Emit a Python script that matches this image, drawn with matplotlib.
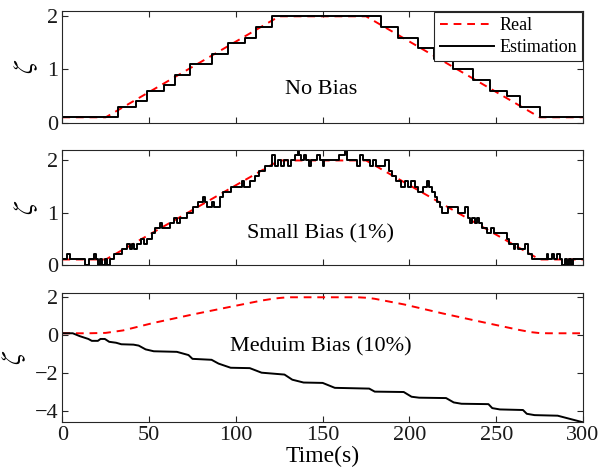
import matplotlib
matplotlib.use("Agg")
import matplotlib.pyplot as plt

# real trajectory (same for the three cases)
real_t = [0, 25, 125, 175, 275, 300]
real_v = [0.1, 0.1, 2.0, 2.0, 0.1, 0.1]

# real trajectory as drawn in the bottom panel (rounded corners)
real3_t = [0, 15, 25, 35, 52.7, 75, 97, 115, 122, 126, 130, 170, 176, 180, 197, 219, 241, 263, 270, 275, 280, 300]
real3_v = [0.1, 0.1, 0.12, 0.25, 0.65, 1.09, 1.5, 1.83, 1.93, 1.97, 2.0, 2.0, 1.97, 1.92, 1.62, 1.15, 0.71, 0.28, 0.16, 0.11, 0.1, 0.1]

# estimation, no bias (step starts)
est1_t = [0, 32.3, 42.5, 48.6, 58.4, 64.9, 73.6, 86.4, 95.6, 105.2, 111.6, 120.6,
          183.4, 193.5, 205, 214, 225.2, 236.7, 246.4, 256, 263.7, 275.2, 300]
est1_v = [0.1, 0.3, 0.4, 0.6, 0.7, 0.9, 1.1, 1.3, 1.5, 1.6, 1.8, 2.0,
          1.8, 1.6, 1.4, 1.2, 1.0, 0.8, 0.6, 0.5, 0.3, 0.1, 0.1]

# estimation, small bias (step starts)
est2_t = [0, 2.5, 4.5, 13, 15.5, 18.3, 19.3, 20.4, 21.7, 23, 24.5, 25.5, 27.3, 29.6,
          34.2, 37.1, 39, 40.2, 41.5, 42.8, 45.5, 47, 48.6, 51.5, 53.4, 56.3, 57.6,
          62, 64.6, 66, 67.8, 71.6, 75.5, 78.3, 81, 82.3, 83.2, 86.5, 87.5, 90.8,
          92.8, 97, 103.3, 104.7, 108.1, 111, 113.5, 117, 121, 122.5, 124, 126,
          128, 130, 132, 134, 135.5, 136.5, 137.5, 139.5, 140.5, 142, 143, 147,
          148.5, 150, 151, 159.5, 162, 163, 164, 170, 171.5, 173, 177, 179, 181,
          186, 188, 190, 192, 195, 197.4, 199.3, 201, 203, 205, 208, 210, 211.5,
          213, 214.7, 216, 217.5, 219, 222, 228, 232, 233.5, 235, 236, 238, 239,
          240, 242, 244.5, 247, 248.5, 256, 257.5, 260, 261, 262.5, 266.6, 268.5,
          270.5, 279, 280, 282, 283.5, 285, 286.5, 288, 289.5, 290.5, 292, 293,
          294.5, 300]
est2_v = [0.1, 0.2, 0.1, 0.0, 0.1, 0.2, 0.1, 0.0, 0.1, 0.0, 0.1, 0.0, 0.1, 0.2,
          0.3, 0.4, 0.3, 0.4, 0.3, 0.4, 0.5, 0.4, 0.5, 0.6, 0.7, 0.8, 0.7,
          0.8, 0.9, 0.8, 0.9, 1.0, 1.1, 1.2, 1.3, 1.2, 1.1, 1.2, 1.1, 1.3,
          1.4, 1.5, 1.6, 1.5, 1.6, 1.7, 1.8, 1.9, 2.1, 1.9, 2.0, 1.9,
          2.0, 1.9, 2.0, 2.1, 2.2, 2.1, 2.0, 2.1, 2.0, 1.9, 2.0, 2.1,
          2.0, 1.9, 2.0, 2.1, 2.1, 2.2, 2.0, 1.9, 2.1, 2.0, 1.9, 2.0, 1.9,
          2.0, 1.8, 1.7, 1.6, 1.5, 1.6, 1.5, 1.6, 1.5, 1.4, 1.5, 1.6, 1.5,
          1.4, 1.3, 1.2, 1.1, 1.0, 1.1, 1.0, 1.1, 0.9, 0.8, 0.9, 0.8, 0.9,
          0.8, 0.7, 0.6, 0.7, 0.6, 0.5, 0.4, 0.3, 0.4, 0.3, 0.4, 0.2,
          0.1, 0.2, 0.1, 0.2, 0.1, 0.2, 0.1, 0.0, 0.1, 0.0, 0.1, 0.0,
          0.1, 0.1]

# estimation, medium bias (breakpoints)
est3_t = [0, 6, 10, 15, 17, 20.5, 22, 24.5, 27, 31, 34, 41, 44, 48, 52.7, 66, 72.7,
          75, 86, 90, 97, 108, 114.8, 128, 132.5, 139, 150, 157, 176.8, 180,
          196.7, 201.2, 205.6, 221.1, 225.5, 230, 245.5, 247.7, 252.1, 265.4,
          267.6, 272.1, 285.4, 300]
est3_v = [0.1, 0.1, -0.05, -0.2, -0.3, -0.3, -0.2, -0.2, -0.35, -0.4, -0.48, -0.5,
          -0.55, -0.75, -0.85, -0.88, -1.05, -1.25, -1.3, -1.5, -1.72, -1.74,
          -1.98, -2.08, -2.35, -2.5, -2.52, -2.78, -2.82, -2.98, -3.0, -3.25,
          -3.3, -3.32, -3.55, -3.62, -3.64, -3.85, -3.92, -3.95, -4.15, -4.22,
          -4.25, -4.6]

labels = ["No Bias", "Small Bias (1%)", "Meduim Bias (10%)"]
label_y = [0.63, 0.6, -0.61]
ylims = [(0, 2.1), (0, 2.2), (-4.6, 2.2)]
yticks = [[0, 1, 2], [0, 1, 2], [-4, -2, 0, 2]]

plt.rcParams['font.family'] = ['Liberation Serif', 'DejaVu Serif']
plt.rcParams['mathtext.fontset'] = 'stix'

fig = plt.figure(figsize=(6.02, 4.68), dpi=100)
boxes = [[0.1035, 0.738, 0.865, 0.2385],
         [0.1035, 0.4344, 0.865, 0.245],
         [0.1035, 0.0976, 0.865, 0.2753]]
axes = [fig.add_axes(b) for b in boxes]

red = '#ff0000'
axes[0].plot(real_t, real_v, '--', color=red, lw=1.4, dashes=(4, 3), label='Real')
axes[0].plot(est1_t, est1_v, color='k', lw=1.4, drawstyle='steps-post', label='Estimation')
axes[1].plot(real_t, real_v, '--', color=red, lw=1.4, dashes=(4, 3))
axes[1].plot(est2_t, est2_v, color='k', lw=1.4, drawstyle='steps-post')
axes[2].plot(real3_t, real3_v, '--', color=red, lw=1.4, dashes=(4, 3))
axes[2].plot(est3_t, est3_v, color='k', lw=1.4)

for i, ax in enumerate(axes):
    ax.set_xlim(0, 300)
    ax.set_ylim(*ylims[i])
    ax.set_yticks(yticks[i])
    ax.set_xticks([0, 50, 100, 150, 200, 250, 300])
    ax.tick_params(direction='in', top=True, right=True, labelsize=16,
                   length=4, width=0.8, color='0.15', labelcolor='0.1', pad=3)
    for s in ax.spines.values():
        s.set_color('0.15')
        s.set_linewidth(0.8)
    ax.set_ylabel(r'$\zeta$', fontsize=20, labelpad=5)
    ax.text(149, label_y[i], labels[i], ha='center', va='center', fontsize=16)
    if i < 2:
        ax.tick_params(labelbottom=False)

axes[2].set_xlabel('Time(s)', fontsize=17, labelpad=0)

leg = axes[0].legend(loc='upper right', fontsize=13, fancybox=False,
                     edgecolor='0.15', framealpha=1, borderaxespad=0.05,
                     handlelength=3.0, borderpad=0.3, labelspacing=0.25,
                     handletextpad=0.3)
leg.get_frame().set_linewidth(0.8)

fig.savefig('out.png', dpi=100)
